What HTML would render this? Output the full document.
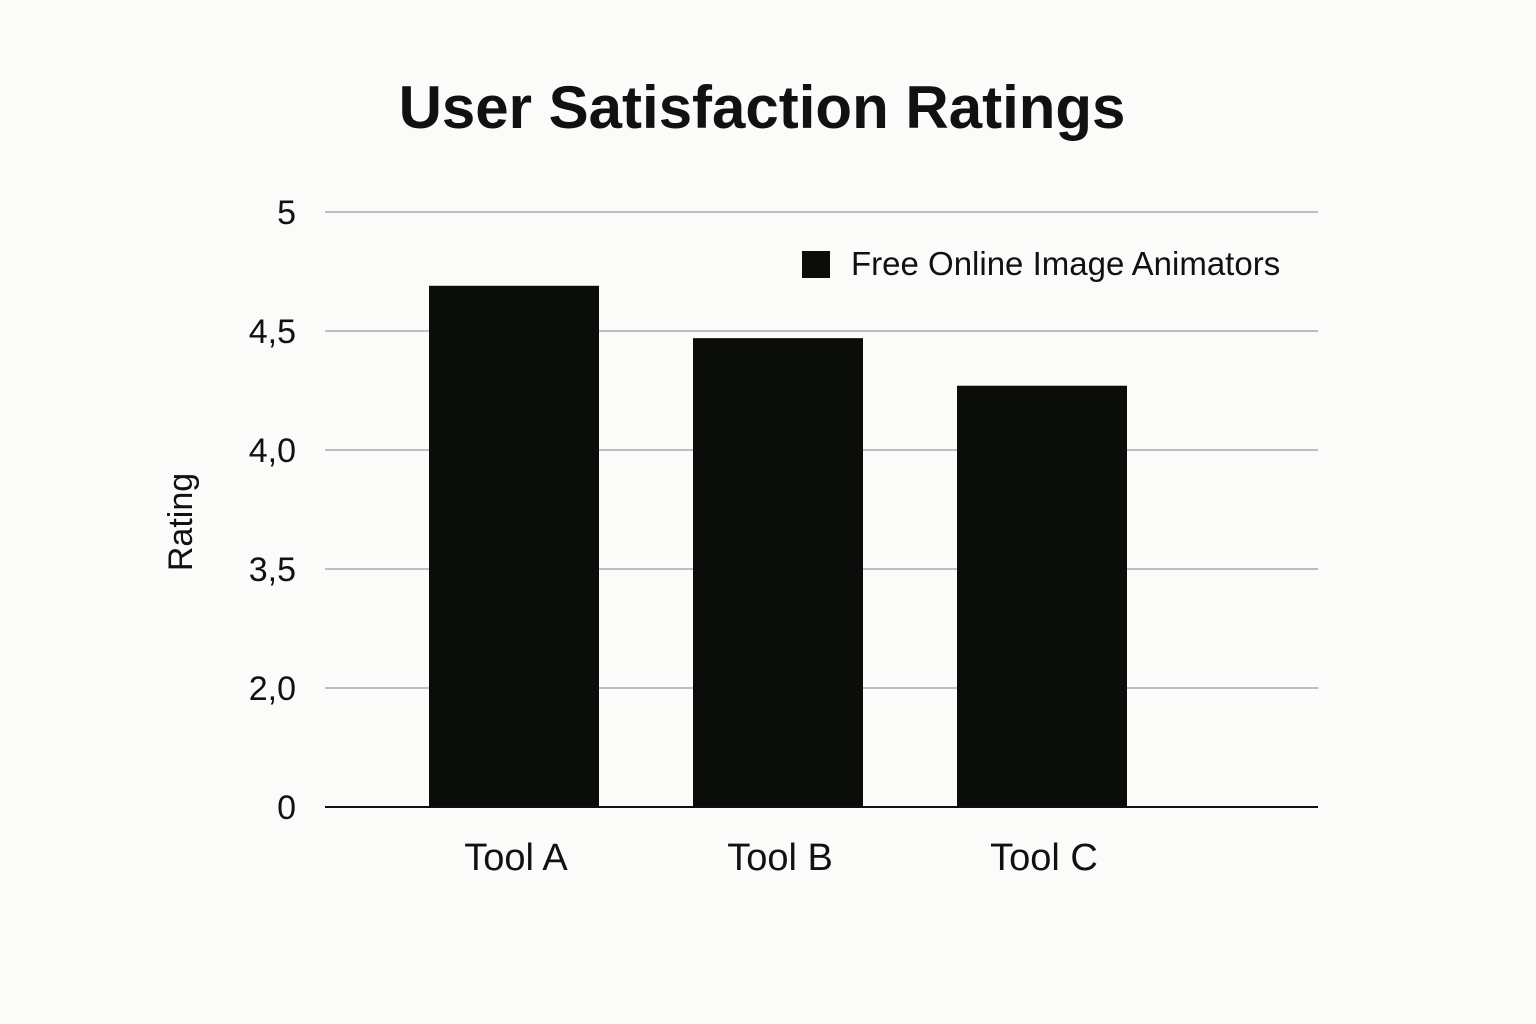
<!DOCTYPE html>
<html><head><meta charset="utf-8"><style>
html,body{margin:0;padding:0;background:#fbfbf9;}
svg{display:block;font-family:"Liberation Sans",sans-serif;}
</style></head><body>
<svg id="chart" width="1536" height="1024" viewBox="0 0 1536 1024" xmlns="http://www.w3.org/2000/svg">
<rect width="1536" height="1024" fill="#fbfbf9"/>
<text x="762" y="128" text-anchor="middle" font-size="60" font-weight="bold" fill="#111">User Satisfaction Ratings</text>
<text transform="translate(192,522) rotate(-90)" text-anchor="middle" font-size="34" fill="#111">Rating</text>
<g id="grid"></g><g id="bars"></g><g id="labels"></g>
<rect x="802" y="251" width="28" height="27" fill="#0b0d0b"/>
<text x="851" y="275" font-size="33" fill="#111">Free Online Image Animators</text>
</svg>
<script>
const categories = ["Tool A", "Tool B", "Tool C"];
const ratings = [4.69, 4.47, 4.27];
const tickValues = [0, 2.0, 3.5, 4.0, 4.5, 5];
const tickLabels = ["0", "2,0", "3,5", "4,0", "4,5", "5"];

const NS = "http://www.w3.org/2000/svg";
const plotLeft = 325, plotRight = 1318, plotBottom = 807, plotTop = 212;
const step = (plotBottom - plotTop) / (tickValues.length - 1);
function y(v){
  for (let i = 0; i < tickValues.length - 1; i++){
    const a = tickValues[i], b = tickValues[i+1];
    if (v <= b || i === tickValues.length - 2){
      return plotBottom - (i + (v - a) / (b - a)) * step;
    }
  }
}
const bandStart = 382, band = 264, barW = 170;
function xCenter(i){ return bandStart + band * (i + 0.5); }
function mk(tag, attrs, parent){
  const el = document.createElementNS(NS, tag);
  for (const k in attrs) el.setAttribute(k, attrs[k]);
  parent.appendChild(el); return el;
}
const grid = document.getElementById("grid"), bars = document.getElementById("bars"), labels = document.getElementById("labels");
tickValues.forEach((v, i) => {
  const yy = y(v);
  const ln = mk("line", {x1: plotLeft, x2: plotRight, y1: yy, y2: yy, stroke: i === 0 ? "#111" : "#9a9a9a", "stroke-width": i === 0 ? 2 : 1.2}, grid);
  
  
  const t = mk("text", {x: 296, y: yy + 12, "text-anchor": "end", "font-size": 34, fill: "#111"}, labels);
  t.textContent = tickLabels[i];
  
  
});
categories.forEach((c, i) => {
  const cx = xCenter(i), top = y(ratings[i]);
  const r = mk("rect", {x: cx - barW/2, y: top, width: barW, height: plotBottom - top, fill: "#0b0d0b"}, bars);
  
  
  const t = mk("text", {x: cx + 2, y: 870, "text-anchor": "middle", "font-size": 38, fill: "#111"}, labels);
  t.textContent = c;
  
  
});
</script>
</body></html>
